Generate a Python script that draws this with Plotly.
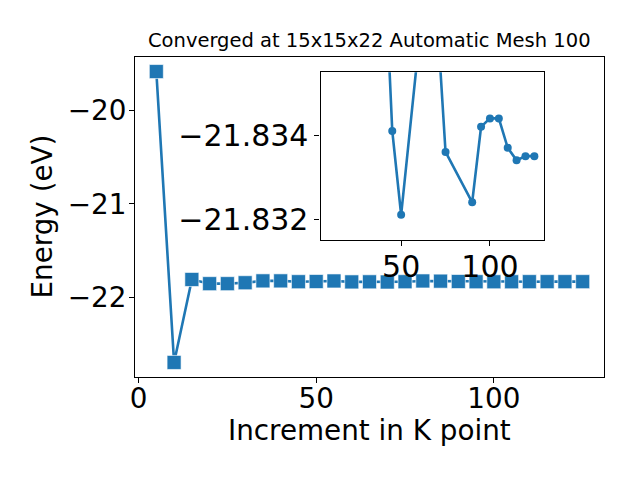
import plotly.graph_objects as go

# Main series
kpoints = [5, 10, 15, 20, 25, 30, 35, 40, 45, 50, 55, 60, 65, 70, 75, 80, 85, 90, 95, 100, 105, 110, 115, 120, 125]
energy = [-19.58, -22.70, -21.81, -21.855, -21.855, -21.845, -21.825, -21.825, -21.834, -21.832,
          -21.826, -21.836, -21.835, -21.837, -21.834, -21.826, -21.828, -21.832, -21.8342, -21.8344,
          -21.8344, -21.8337, -21.8334, -21.8335, -21.8335]

# Inset (zoomed) series
inset_k = [40, 45, 50, 60, 70, 75, 90, 95, 100, 105, 110, 115, 120, 125]
inset_energy = [-21.8388, -21.8341, -21.8321, -21.8362, -21.8370, -21.8336, -21.8324, -21.8342,
                -21.8344, -21.8344, -21.8337, -21.8334, -21.8335, -21.8335]

title_text = "Converged at 15x15x22 Automatic Mesh 100"
xlabel = "Increment in K point"
ylabel = "Energy (eV)"

blue = "#1f77b4"
font = "DejaVu Sans"
W, H, OFF = 640, 480, 8  # page body margin offset


def fx(px):
    return (px - OFF) / W


def fy(py):
    return 1 - (py - OFF) / H


fig = go.Figure()
fig.add_trace(go.Scatter(
    x=kpoints, y=energy, mode="lines+markers",
    line=dict(color=blue, width=2.6),
    marker=dict(symbol="square", size=14, color=blue, line=dict(color="rgba(255,255,255,0.6)", width=1)),
    xaxis="x", yaxis="y", showlegend=False, cliponaxis=False,
))
fig.add_trace(go.Scatter(
    x=inset_k, y=inset_energy, mode="lines+markers",
    line=dict(color=blue, width=2.6),
    marker=dict(symbol="circle", size=8, color=blue),
    xaxis="x2", yaxis="y2", showlegend=False,
))


def axis_common(size, standoff):
    return dict(
        showgrid=False, zeroline=False, showline=True, linecolor="black", linewidth=1.1,
        mirror=True, ticks="outside", ticklen=5, tickwidth=1.1, tickcolor="black", automargin=False,
        ticklabelstandoff=standoff,
        tickfont=dict(family=font, size=size, color="black"),
    )


fig.update_layout(
    width=W, height=H,
    margin=dict(l=0, r=0, t=0, b=0),
    paper_bgcolor="white", plot_bgcolor="white",
    xaxis=dict(domain=[fx(135), fx(604)], range=[-1, 131], tickmode="array", tickvals=[0, 50, 100],
               anchor="y", **axis_common(27.8, -8)),
    yaxis=dict(domain=[fy(377), fy(57)], range=[-22.856, -19.424], tickmode="array",
               tickvals=[-22, -21, -20], anchor="x", **axis_common(27.8, -3)),
    xaxis2=dict(domain=[fx(320.5), fx(544.3)], range=[4.6, 130.6], tickmode="array", tickvals=[50, 100],
                anchor="y2", **axis_common(30, -5)),
    yaxis2=dict(domain=[fy(240), fy(72.3)], range=[-21.8315, -21.8355], tickmode="array",
                tickvals=[-21.834, -21.832], tickformat=".3f", anchor="x2", **axis_common(30, 0)),
    annotations=[
        dict(text=title_text, x=fx((135 + 604) / 2), y=fy(57), xref="paper", yref="paper",
             xanchor="center", yanchor="bottom", yshift=3, showarrow=False,
             font=dict(family=font, size=19.5, color="black")),
        dict(text=xlabel, x=fx((135 + 604) / 2), y=fy(449), xref="paper", yref="paper",
             xanchor="center", yanchor="bottom", showarrow=False,
             font=dict(family=font, size=27.8, color="black")),
        dict(text=ylabel, x=fx(23), y=fy(217), xref="paper", yref="paper",
             xanchor="left", yanchor="middle", textangle=-90, showarrow=False,
             font=dict(family=font, size=27.8, color="black")),
    ],
)

fig.write_html("out.html")
